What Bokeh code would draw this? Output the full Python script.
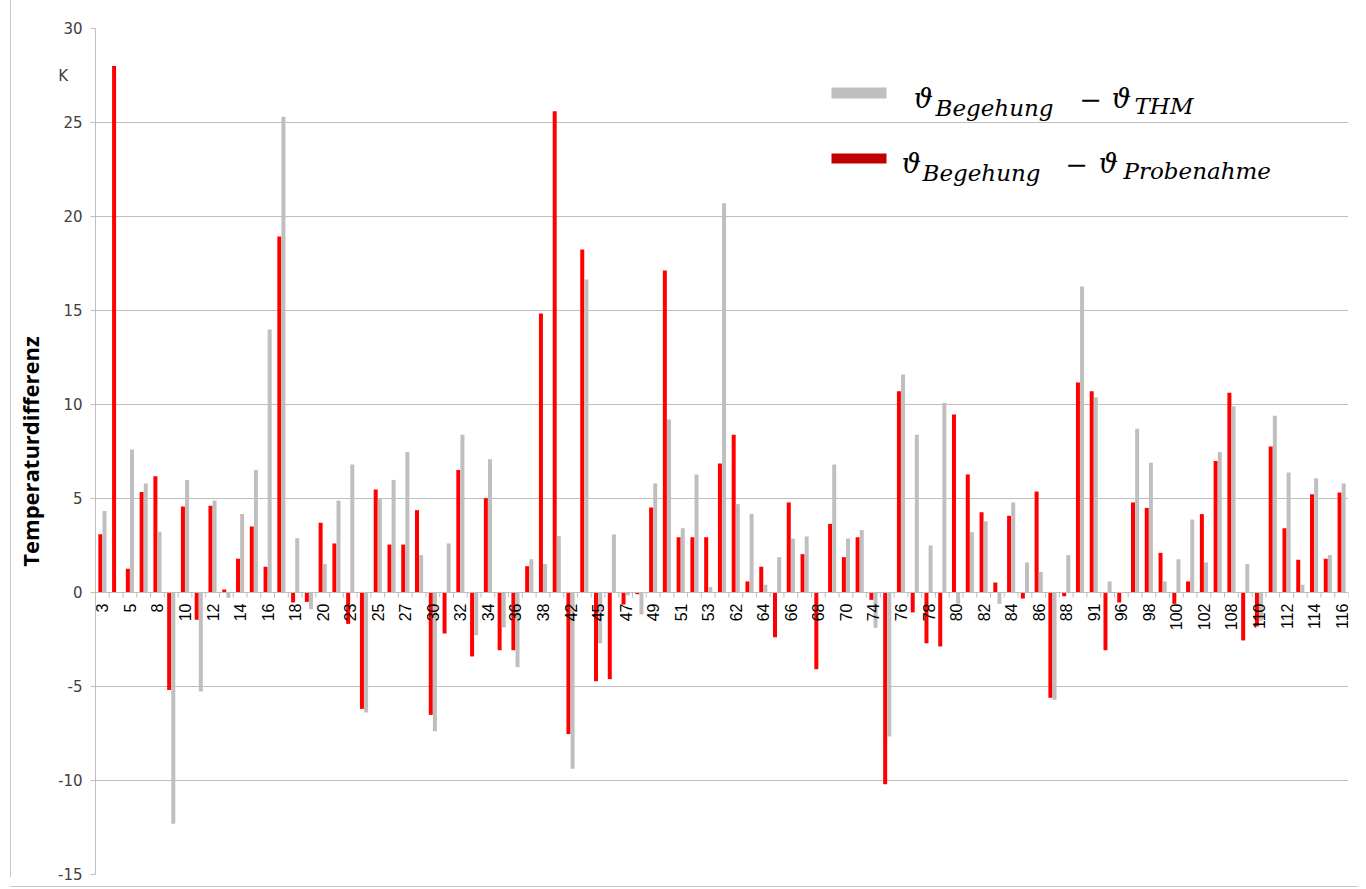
import numpy as np
from bokeh.plotting import figure
from bokeh.models import ColumnDataSource, FixedTicker, Label
from bokeh.transform import dodge
from bokeh.core.properties import value
from bokeh.embed import file_html
from bokeh.resources import INLINE

# ---------------- data ----------------
categories = [3, 4, 5, 6, 8, 9, 10, 11, 12, 13, 14, 15, 16, 17, 18, 19, 20, 22, 23, 24,
              25, 26, 27, 29, 30, 31, 32, 33, 34, 35, 36, 37, 38, 40, 42, 44, 45, 46, 47, 48,
              49, 50, 51, 52, 53, 61, 62, 63, 64, 65, 66, 67, 68, 69, 70, 73, 74, 75, 76, 77,
              78, 79, 80, 81, 82, 83, 84, 85, 86, 87, 88, 90, 91, 95, 96, 97, 98, 99, 100, 101,
              102, 107, 108, 109, 110, 111, 112, 113, 114, 115, 116]

# theta_Begehung - theta_THM  (grey)
diff_thm = [4.33, 0.0, 7.6, 5.8, 3.23, -12.3, 5.99, -5.27, 4.89, -0.28,
            4.18, 6.52, 13.99, 25.3, 2.89, -0.89, 1.51, 4.89, 6.81, -6.38,
            5.02, 5.99, 7.48, 1.99, -7.38, 2.61, 8.39, -2.27, 7.09, -1.86,
            -3.97, 1.77, 1.51, 3.0, -9.38, 16.65, -2.70, 3.09, -0.15, -1.17,
            5.80, 9.2, 3.42, 6.28, 0.30, 20.7, 4.70, 4.18, 0.41, 1.88,
            2.87, 2.98, 0.0, 6.81, 2.87, 3.32, -1.88, -7.66, 11.6, 8.39,
            2.50, 10.09, -0.6, 3.21, 3.79, -0.6, 4.79, 1.60, 1.10, -5.71,
            1.99, 16.28, 10.39, 0.59, 0.0, 8.71, 6.90, 0.59, 1.77, 3.88,
            1.60, 7.48, 9.91, 1.51, -1.5, 9.40, 6.38, 0.41, 6.08, 1.99,
            5.80]

# theta_Begehung - theta_Probenahme  (red)
diff_probe = [3.1, 28.0, 1.26, 5.34, 6.19, -5.18, 4.57, -1.45, 4.61, 0.16,
              1.79, 3.51, 1.37, 18.94, -0.53, -0.5, 3.71, 2.61, -1.67, -6.19,
              5.48, 2.55, 2.55, 4.38, -6.51, -2.18, 6.52, -3.40, 5.02, -3.07,
              -3.07, 1.40, 14.84, 25.6, -7.52, 18.24, -4.72, -4.61, -0.64, -0.09,
              4.52, 17.13, 2.94, 2.94, 2.94, 6.86, 8.39, 0.59, 1.37, -2.38,
              4.79, 2.04, -4.08, 3.65, 1.88, 2.94, -0.39, -10.2, 10.7, -1.06,
              -2.70, -2.87, 9.47, 6.28, 4.27, 0.53, 4.08, -0.32, 5.37, -5.60,
              -0.2, 11.17, 10.7, -3.07, -0.53, 4.79, 4.50, 2.11, -0.6, 0.59,
              4.17, 7.0, 10.62, -2.55, -1.8, 7.77, 3.42, 1.74, 5.23, 1.79,
              5.32]

y_ticks = [-15, -10, -5, 0, 5, 10, 15, 20, 25, 30]
y_label = "Temperaturdifferenz"
unit_label = "K"
unit_at = 27.5

# ---------------- layout ----------------
ML, MR, MT, MB = 95, 10, 28, 15
n = len(categories)
y_lo, y_hi = y_ticks[0], y_ticks[-1]
frame_w, frame_h = 1253, 846
W, H = ML + frame_w + MR, MT + frame_h + MB
px_x = frame_w / n
px_y = frame_h / (y_hi - y_lo)


def dx(px):
    return (px - ML) / px_x - 0.5


def dy(py):
    return y_hi - (py - MT) / px_y


GRID = "#BEBEBE"
EDGE = "#C8C8C8"

src = ColumnDataSource(dict(idx=list(range(n)), thm=diff_thm, probe=diff_probe))

p = figure(width=W, height=H, output_backend="svg", toolbar_location=None, tools="",
           x_range=(-0.5, n - 0.5), y_range=(y_lo, y_hi), x_axis_location=None,
           min_border_left=ML, min_border_right=MR, min_border_top=MT, min_border_bottom=MB)
p.outline_line_color = None
p.background_fill_color = "white"
p.border_fill_color = None
p.styles = {
    "background-color": "white",
    "background-image": f"linear-gradient({EDGE}, {EDGE}), linear-gradient({EDGE}, {EDGE})",
    "background-size": "1px 877px, 1400px 1px",
    "background-position": "10px 0px, 10px 886px",
    "background-repeat": "no-repeat",
}
p.xgrid.visible = False
p.ygrid.ticker = FixedTicker(ticks=y_ticks)
p.ygrid.grid_line_color = GRID
p.ygrid.grid_line_width = 1

ax = p.yaxis[0]
ax.ticker = FixedTicker(ticks=y_ticks + [unit_at], minor_ticks=y_ticks)
labels = {t: str(t) for t in y_ticks}
labels[unit_at] = unit_label + "\u00a0\u00a0\u00a0"
ax.major_label_overrides = labels
ax.axis_line_color = GRID
ax.major_tick_line_color = None
ax.minor_tick_line_color = GRID
ax.minor_tick_out = 5
ax.minor_tick_in = 0
ax.major_tick_out = 5
ax.major_tick_in = 0
ax.major_label_standoff = 8
ax.major_label_text_font = "DejaVu Sans"
ax.major_label_text_font_size = "15px"
ax.major_label_text_color = "#404040"
ax.axis_label = y_label
ax.axis_label_text_font = "Open Sans"
ax.axis_label_text_font_style = "bold"
ax.axis_label_text_font_size = "22px"
ax.axis_label_text_color = "black"
ax.axis_label_standoff = 10

# bars
p.vbar(x=dodge("idx", -0.15), top="probe", width=0.29, source=src,
       fill_color="#FF0000", line_color=None)
p.vbar(x=dodge("idx", 0.15), top="thm", width=0.29, source=src,
       fill_color="#BFBFBF", line_color=None)

# category axis drawn at y = 0
tick_len = 5 / px_y
bx = [i - 0.5 for i in range(n + 1)]
p.segment(x0=bx, x1=bx, y0=[0] * len(bx), y1=[-tick_len] * len(bx), line_color=GRID, line_width=1)
p.segment(x0=[-0.5], x1=[n - 0.5], y0=[0], y1=[0], line_color=GRID, line_width=1)

lab_idx = list(range(0, n, 2))
lab_src = ColumnDataSource(dict(x=lab_idx, y=[-11 / px_y] * len(lab_idx),
                                t=[str(categories[i]) for i in lab_idx]))
p.text(x="x", y="y", text="t", source=lab_src, angle=np.pi / 2, text_align="right",
       text_baseline="middle", text_font=value("Liberation Sans"), text_font_size="16px",
       text_color="black")

# legend
p.quad(left=[dx(831)], right=[dx(886)], top=[dy(87)], bottom=[dy(98)],
       fill_color="#BFBFBF", line_color=None)
p.quad(left=[dx(831)], right=[dx(886)], top=[dy(153)], bottom=[dy(163)],
       fill_color="#C00000", line_color=None)


def piece(txt, px, py, size, align="center", italic=True):
    p.add_layout(Label(x=dx(px), y=dy(py), text=txt, text_align=align, text_baseline="alphabetic",
                       text_font="DejaVu Serif", text_font_style="italic" if italic else "normal",
                       text_font_size=f"{size}px", text_color="black"))


theta = "\u03d1"
piece(theta, 923, 98, 27)
piece("Begehung", 935, 107, 23, align="left")
piece("\u2212", 1090, 98, 27, italic=False)
piece(theta, 1121, 98, 27)
piece("THM", 1134, 105, 23, align="left")

piece(theta, 911, 163, 27)
piece("Begehung", 922, 172, 23, align="left")
piece("\u2212", 1076, 163, 27, italic=False)
piece(theta, 1108, 163, 27)
piece("Probenahme", 1123, 170, 23, align="left")

open("out.html", "w").write(file_html(p, INLINE))
